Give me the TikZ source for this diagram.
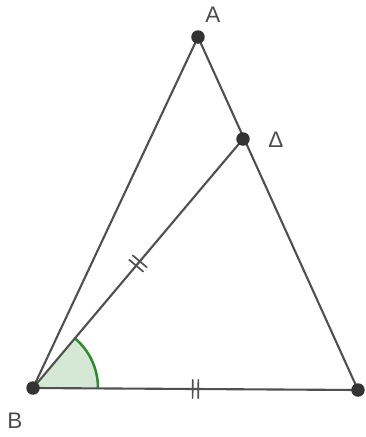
\documentclass[tikz,border=0pt]{standalone}
\usepackage{fontspec}
\setmainfont{Liberation Sans}
\usepackage{tikz}
\usetikzlibrary{calc,angles,quotes,decorations.markings}
\definecolor{linegray}{RGB}{80,80,80}
\definecolor{anglegreen}{RGB}{46,140,46}
\tikzset{
  side/.style={draw=linegray, line width=1.5pt},
  pt/.style={fill=black!80},
  lbl/.style={text=black!70, font=\fontsize{16}{16}\selectfont},
  equal/.style={postaction={decorate, decoration={markings,
      mark=at position 0.5 with {\draw[linegray, line width=1.2pt] (-2pt,-6.5pt)--(-2pt,6.5pt) (2pt,-6.5pt)--(2pt,6.5pt);}}}}
}

\begin{document}
\begin{tikzpicture}[x=0.025cm, y=-0.025cm, line cap=round, line join=round]
			\useasboundingbox (0,0) rectangle (366,437);
			\coordinate (A) at (198,37);
			\coordinate (D) at (243,139);
			\coordinate (B) at (33,388);
			\coordinate (C) at (358,390);
			% angle at B
			\fill[anglegreen!20] (B) -- ++(65,0) arc[start angle=0, end angle=-49.9, radius=65] -- cycle;
			\draw[anglegreen, line width=1.8pt] ($(B)+(65,0)$) arc[start angle=0, end angle=-49.9, radius=65];
			% sides
			\draw[side] (B) -- (A) -- (C);
			\draw[side, equal] (B) -- (D);
			\draw[side, equal] (B) -- (C);
			\fill[pt] (A) circle (4.8pt);
			\fill[pt] (D) circle (4.8pt);
			\fill[pt] (B) circle (4.8pt);
			\fill[pt] (C) circle (4.8pt);
			\node[lbl] (lA) at (213,15) {A};
			\node[lbl] (lD) at (276,140) {Δ};
			\node[lbl] (lB) at (15,421) {B};
		\end{tikzpicture}
\end{document}
